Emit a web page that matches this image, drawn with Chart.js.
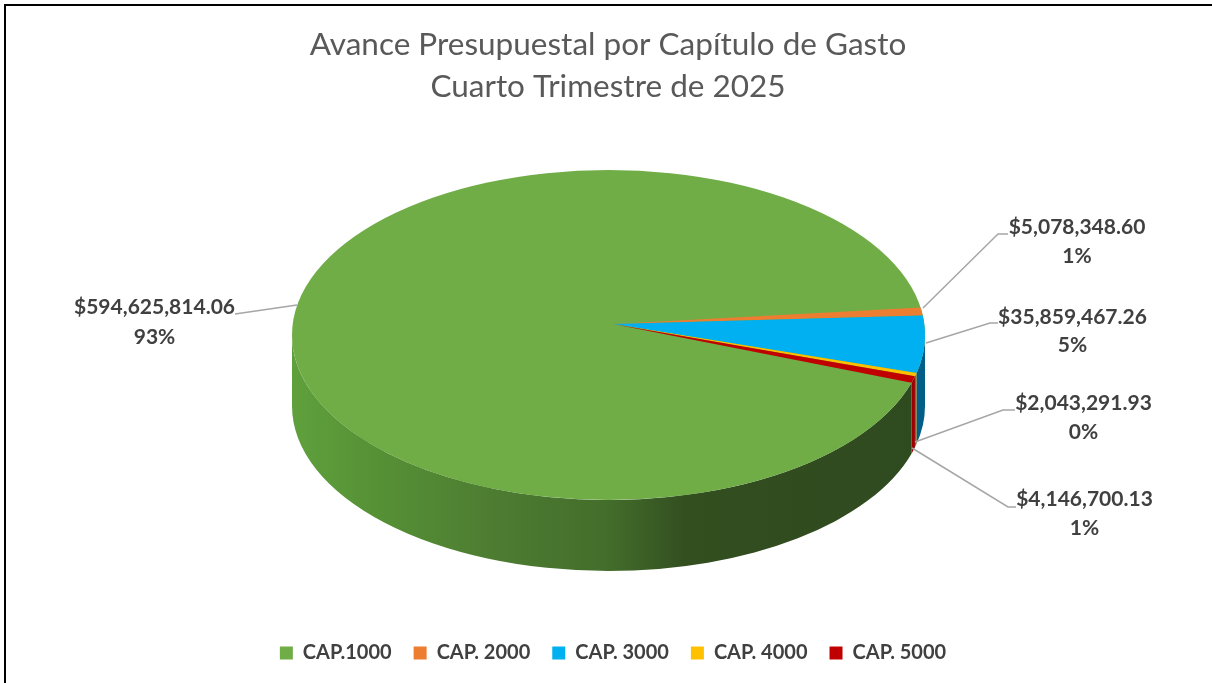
<!DOCTYPE html>
<html><head><meta charset="utf-8">
<style>
html,body{margin:0;padding:0;background:#fff;width:1212px;height:683px;overflow:hidden}
#wrap{position:absolute;left:0;top:0;width:1212px;height:683px}
#frame{position:absolute;left:4px;top:4px;width:1208px;height:679px;border-left:2px solid #000;border-top:2px solid #000;box-sizing:border-box;pointer-events:none}
</style></head><body>
<div id="wrap"><canvas id="c" width="1212" height="683"></canvas><div id="frame"></div></div>
<script src="https://cdn.jsdelivr.net/npm/chart.js@4/dist/chart.umd.min.js"></script>
<script>
const categories = ['CAP.1000','CAP. 2000','CAP. 3000','CAP. 4000','CAP. 5000'];
const values = [594625814.06, 5078348.60, 35859467.26, 2043291.93, 4146700.13];
const percentLabels = ['93%','1%','5%','0%','1%'];
const colors = ['#70AD47','#ED7D31','#00B0F0','#FFC000','#C00000'];
const wallColors = [null,'#8A4A1C','#005E88','#8F6C00','#9C0000'];
const titleLines = ['Avance Presupuestal por Capítulo de Gasto','Cuarto Trimestre de 2025'];

const labelLayout = [
  {x:154.5,y1:307,y2:337,line:[[235,314],[297,305]]},
  {x:1077,y1:227,y2:256,line:[[923,308],[998,234],[1008,234]]},
  {x:1072.5,y1:317,y2:345,line:[[926,343],[990,323],[998,323]]},
  {x:1083.5,y1:403,y2:432,line:[[915,442],[1003,410],[1015,410]]},
  {x:1084.5,y1:499,y2:528,line:[[912,448],[1008,507],[1016,507]]}
];

const pie3d = {
  id:'pie3d',
  afterLayout(chart){
    chart.titleBlock.left-=5;
    chart.titleBlock.right-=5;
  },
  beforeDatasetsDraw(chart,args,o){
    const ctx=chart.ctx, arcs=chart.getDatasetMeta(0).data;
    const a0=arcs[0];
    const rx=a0.outerRadius, ry=rx*o.tilt, cx=o.cx, cy=o.cy, d=o.depth;
    const ax=cx+o.apexDx, ay=cy+o.apexDy;
    const TAU=Math.PI*2;
    const wall=(s,e,fill)=>{
      ctx.beginPath();
      ctx.ellipse(cx,cy,rx,ry,0,s,e);
      ctx.lineTo(cx+rx*Math.cos(e),cy+ry*Math.sin(e)+d);
      ctx.ellipse(cx,cy+d,rx,ry,0,e,s,true);
      ctx.closePath();
      ctx.fillStyle=fill;ctx.fill();
    };
    ctx.save();
    const g=ctx.createLinearGradient(cx-rx,0,cx+rx,0);
    g.addColorStop(0,'#5FA03C');g.addColorStop(.15,'#558F35');g.addColorStop(.3,'#4E7E32');g.addColorStop(.5,'#436D2B');g.addColorStop(.62,'#334F20');g.addColorStop(1,'#2E4A1F');
    const norm=x=>{x%=TAU;if(x>Math.PI)x-=TAU;if(x<=-Math.PI)x+=TAU;return x;};
    wall(norm(a0.startAngle),Math.PI,g);
    for(let i=1;i<arcs.length;i++){
      const s=norm(arcs[i].startAngle),e=norm(arcs[i].endAngle);
      if(e>0) wall(Math.max(s,0),e,wallColors[i]);
    }
    ctx.beginPath();ctx.ellipse(cx,cy,rx,ry,0,0,TAU);ctx.fillStyle=colors[0];ctx.fill();
    for(let i=1;i<arcs.length;i++){
      ctx.beginPath();ctx.moveTo(ax,ay);
      ctx.ellipse(cx,cy,rx,ry,0,arcs[i].startAngle,arcs[i].endAngle);
      ctx.closePath();ctx.fillStyle=colors[i];ctx.fill();
    }
    ctx.strokeStyle='#A6A6A6';ctx.lineWidth=1.5;
    labelLayout.forEach(l=>{ctx.beginPath();l.line.forEach((p,i)=>i?ctx.lineTo(p[0],p[1]):ctx.moveTo(p[0],p[1]));ctx.stroke();});
    ctx.fillStyle='#404040';ctx.textAlign='center';ctx.textBaseline='middle';
    ctx.font='bold 21px Lato';
    values.forEach((v,i)=>{
      const l=labelLayout[i];
      ctx.fillText('$'+v.toLocaleString('en-US',{minimumFractionDigits:2,maximumFractionDigits:2}),l.x,l.y1);
      ctx.fillText(percentLabels[i],l.x,l.y2);
    });
    ctx.restore();
    return false;
  }
};

new Chart(document.getElementById('c'),{
  type:'pie',
  data:{labels:categories,datasets:[{data:values,backgroundColor:colors,borderWidth:0,radius:316.5}]},
  options:{
    responsive:false,animation:false,rotation:106.8,
    layout:{padding:{left:14,right:0,top:0,bottom:10}},
    plugins:{
      tooltip:{enabled:false},
      title:{display:true,align:'center',text:titleLines,color:'#595959',font:{family:'Lato',size:31.5,weight:'normal',lineHeight:1.33},padding:{top:24,bottom:10},fullSize:true},
      legend:{position:'bottom',labels:{color:'#404040',font:{family:'Lato',size:20,weight:'bold'},boxWidth:13,boxHeight:13,padding:22}},
      pie3d:{tilt:0.5213,depth:71,cx:608.5,cy:335,apexDx:4.5,apexDy:-11}
    }
  },
  plugins:[pie3d]
});
</script>
</body></html>
